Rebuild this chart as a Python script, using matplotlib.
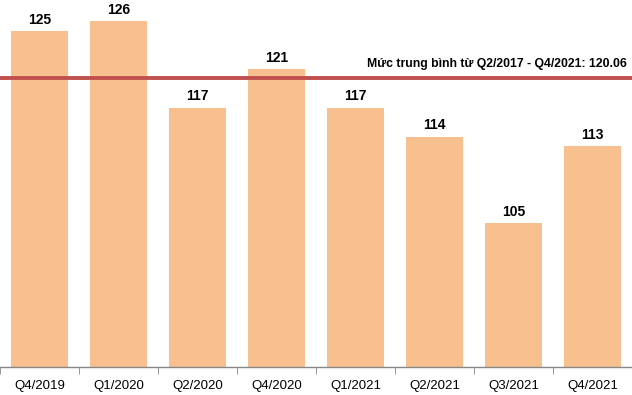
import matplotlib.pyplot as plt
import numpy as np

# du lieu
quarters = ["Q4/2019", "Q1/2020", "Q2/2020", "Q4/2020", "Q1/2021", "Q2/2021", "Q3/2021", "Q4/2021"]
values = [125, 126, 117, 121, 117, 114, 105, 113]
avg_value = 120.06
avg_label = "Mức trung bình từ Q2/2017 - Q4/2021: 120.06"

plt.rcParams["font.family"] = ["Liberation Sans", "DejaVu Sans"]

fig = plt.figure(figsize=(6.32, 3.95), dpi=100)
ax = fig.add_axes([0, 395 - 367, 632, 367] / np.array([632, 395, 632, 395]))

x = np.arange(len(quarters))
ax.bar(x, values, width=0.71, color="#F9C08F", zorder=2)
ax.axhline(avg_value, color="#C0504D", linewidth=2.8, zorder=3)

for xi, v in zip(x, values):
    ax.text(xi, v + 0.45, str(v), ha="center", va="bottom", fontsize=10, fontweight="bold")

ax.text(len(quarters) - 0.56, avg_value + 0.85, avg_label, ha="right", va="bottom",
        fontsize=8.8, fontweight="bold")

ax.set_xlim(-0.5, len(quarters) - 0.5)
ax.set_ylim(90, 90 + 367 / 9.6)
ax.set_xticks(x)
ax.set_xticklabels(quarters, fontsize=9.5)
ax.set_xticks(np.arange(len(quarters) + 1) - 0.5, minor=True)
ax.tick_params(axis="x", which="major", length=0, pad=9)
ax.tick_params(axis="x", which="minor", length=5, color="#868686")
ax.set_yticks([])
for s in ["top", "right", "left"]:
    ax.spines[s].set_visible(False)
ax.spines["bottom"].set_color("#868686")
ax.spines["bottom"].set_linewidth(1)

fig.savefig("out.png", dpi=100)
